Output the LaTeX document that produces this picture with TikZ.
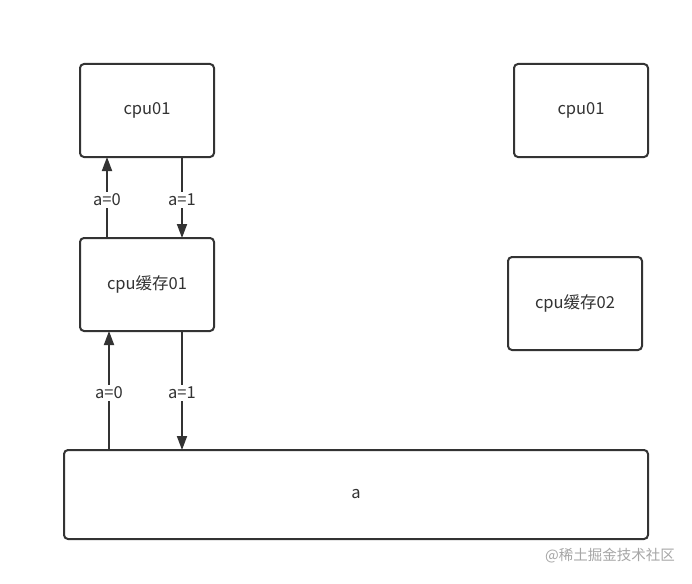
\documentclass[tikz,border=0pt]{standalone}
\usepackage{fontspec}
\setmainfont{Noto Sans CJK SC}
\usetikzlibrary{arrows.meta}
\definecolor{ink}{HTML}{333333}
\newcommand{\lowr}[1]{\raisebox{-2.5pt}{#1}}
\tikzset{
  box/.style={draw=ink, line width=2pt, rounded corners=4pt, fill=white, inner sep=0pt, text=ink, font=\fontsize{16.5}{19}\selectfont},
  conn/.style={draw=ink, line width=1.8pt, -{Triangle[length=14pt,width=10pt]}},
  lbl/.style={fill=white, text=ink, inner sep=2pt, font=\fontsize{16.5}{19}\selectfont}
}
\begin{document}
\begin{tikzpicture}[x=1pt,y=-1pt]
\useasboundingbox[fill=white] (0,0) rectangle (692,583);
\node[box, minimum width=134pt, minimum height=93pt] (cpuA) at (147,110.5) {\lowr{cpu01}};
\node[box, minimum width=134pt, minimum height=93pt] (cpuB) at (581,110.5) {\lowr{cpu01}};
\node[box, minimum width=134pt, minimum height=93pt] (cacheA) at (147,284.5) {\lowr{cpu缓存01}};
\node[box, minimum width=134pt, minimum height=93pt] (cacheB) at (575,303.5) {\lowr{cpu缓存02}};
\node[box, minimum width=584pt, minimum height=89pt] (mem) at (356,494.5) {\lowr{a}};
\coordinate (u1s) at (107,238); \coordinate (u1e) at (107,157);
\coordinate (d1s) at (182,157); \coordinate (d1e) at (182,238);
\coordinate (u2s) at (109,450); \coordinate (u2e) at (109,331);
\coordinate (d2s) at (182,331); \coordinate (d2e) at (182,450);
\draw[conn] (u1s) -- node[lbl, pos=0.47] (l1) {a=0} (u1e);
\draw[conn] (d1s) -- node[lbl, pos=0.53] (l2) {a=1} (d1e);
\draw[conn] (u2s) -- node[lbl, pos=0.48] (l3) {a=0} (u2e);
\draw[conn] (d2s) -- node[lbl, pos=0.52] (l4) {a=1} (d2e);
\node[text=gray!70, font=\fontsize{14.5}{17}\selectfont, anchor=center] (wm) at (610,556) {@稀土掘金技术社区};
\end{tikzpicture}
\end{document}
